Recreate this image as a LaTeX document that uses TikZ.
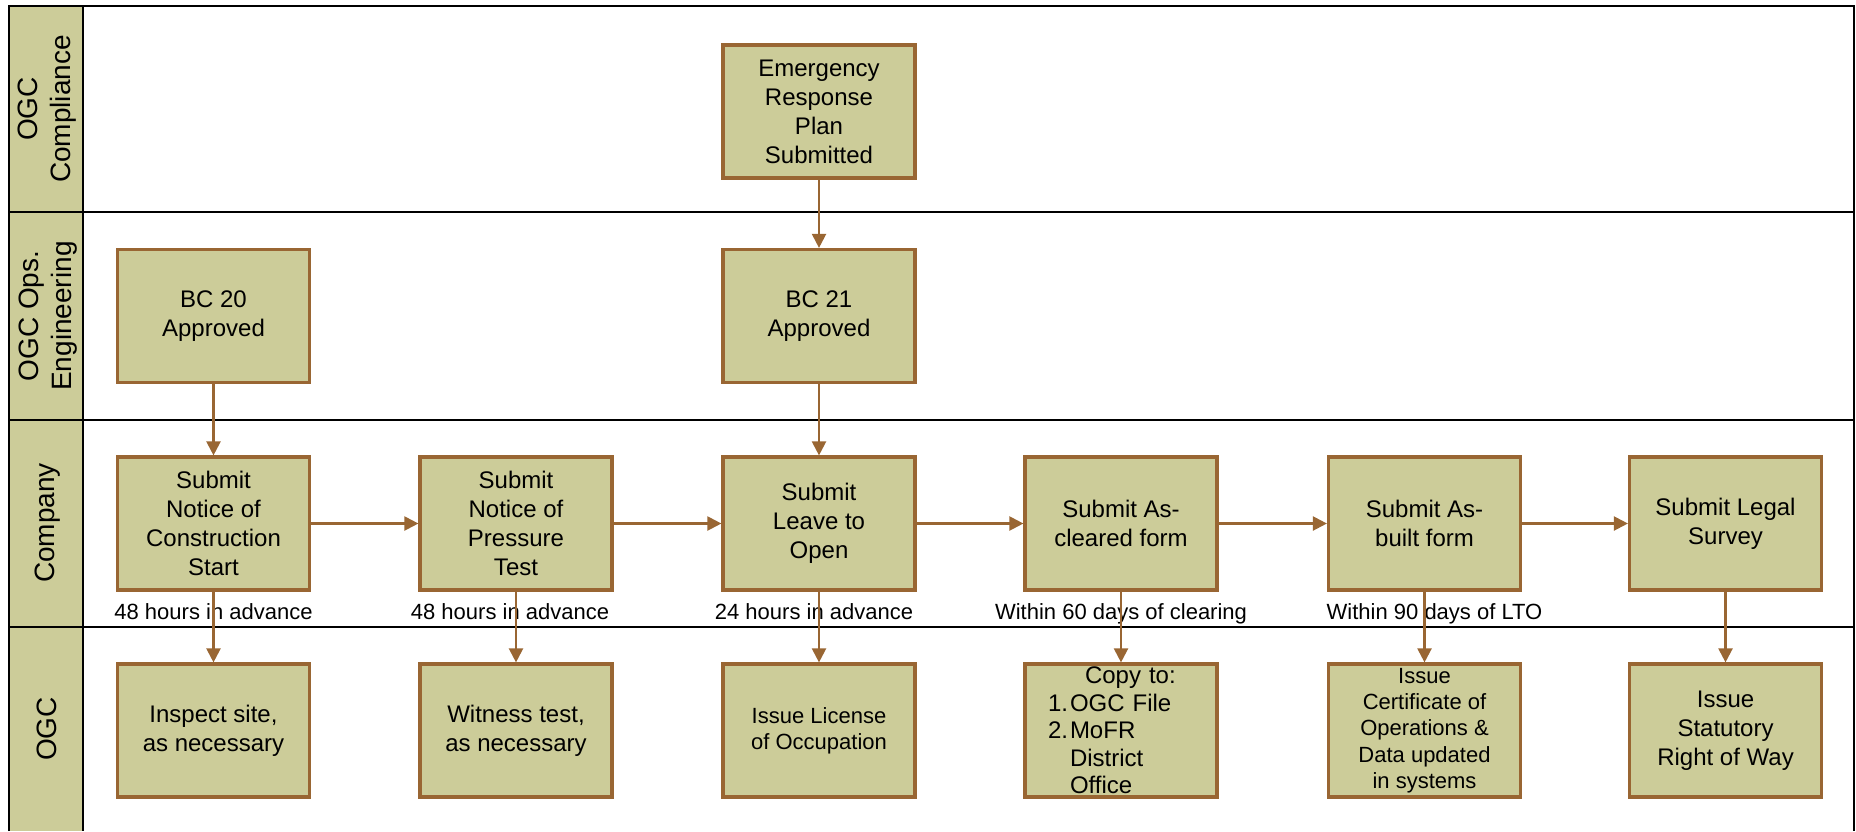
\documentclass[tikz,border=0pt]{standalone}
\usepackage{fontspec}
\setmainfont{Liberation Sans}
\usepackage{xcolor}
\usepackage{tikz}
\usetikzlibrary{arrows.meta,positioning}
\definecolor{khaki}{RGB}{204,204,153}
\definecolor{rust}{RGB}{153,102,51}

\begin{document}
\begin{tikzpicture}[x=0.5pt,y=-0.5pt,
      stepbox/.style={draw=rust,fill=khaki,line width=1.6pt,minimum width=96pt,minimum height=66.5pt,
        align=center,inner sep=1pt,font=\fontsize{12}{14.5}\selectfont},
      smalltext/.style={font=\fontsize{11}{13.2}\selectfont},
      note/.style={inner sep=0pt,font=\fontsize{11}{13}\selectfont},
      lane/.style={rotate=90,align=center,font=\fontsize{14}{16.5}\selectfont},
      flow/.style={draw=rust,line width=1.1pt,-{Triangle[length=7pt,width=7pt]}}]
      \useasboundingbox (0,0) rectangle (1856,831);
      \fill[khaki] (9,6) rectangle (83,831);
      \draw[line width=1pt] (9,831) -- (9,6) -- (1854,6) -- (1854,831);
      \draw[line width=1pt] (83,6) -- (83,831);
      \foreach \y in {212,420,627}
        \draw[line width=1pt] (9,\y) -- (1854,\y);
      \node[lane] (compliance) at (47,109) {OGC\\Compliance};
      \node[lane] (engineering) at (48,316) {OGC Ops.\\Engineering};
      \node[lane] (company) at (48,523) {Company};
      \node[lane] (ogc) at (47,729) {OGC};
      \node[stepbox] (erp) at (819,111.5) {Emergency\\Response\\Plan\\Submitted};
      \node[stepbox] (bc20) at (213.5,316) {BC 20\\Approved};
      \node[stepbox] (bc21) at (819,316) {BC 21\\Approved};
      \node[stepbox] (sub1) at (213.5,523.5) {Submit\\Notice of\\Construction\\Start};
      \node[stepbox] (sub2) at (516,523.5) {Submit\\Notice of\\Pressure\\Test};
      \node[stepbox] (sub3) at (819,523.5) {Submit\\Leave to\\Open};
      \node[stepbox] (sub4) at (1121,523.5) {Submit As-\\cleared form};
      \node[stepbox] (sub5) at (1424.5,523.5) {Submit As-\\built form};
      \node[stepbox] (sub6) at (1725.5,523.5) {Submit Legal\\Survey};
      \node[stepbox] (ogc1) at (213.5,730.5) {Inspect site,\\as necessary};
      \node[stepbox] (ogc2) at (516,730.5) {Witness test,\\as necessary};
      \node[stepbox,smalltext] (ogc3) at (819,730.5) {Issue License\\of Occupation};
      \node[stepbox,text width=73pt,align=left,font=\fontsize{12}{13.75}\selectfont] (ogc4) at (1121,730.5)
        {\hspace*{18.5pt}Copy to:\\\makebox[11pt][l]{1.}OGC File\\\makebox[11pt][l]{2.}MoFR\\\hspace*{11pt}District\\\hspace*{11pt}Office};
      \node[stepbox,smalltext] (ogc5) at (1424.5,730.5) {Issue\\Certificate of\\Operations \&\\Data updated\\in systems};
      \node[stepbox] (ogc6) at (1725.5,730.5) {Issue\\Statutory\\Right of Way};
      \node[note,below=6pt of sub1] (n1) {48 hours in advance};
      \node[note,below=6pt of sub2,xshift=-3pt] (n2) {48 hours in advance};
      \node[note,below=6pt of sub3,xshift=-2.5pt] (n3) {24 hours in advance};
      \node[note,below=6pt of sub4] (n4) {Within 60 days of clearing};
      \node[note,below=6pt of sub5,xshift=5pt] (n5) {Within 90 days of LTO};
      \draw[flow] (erp) -- (bc21);
      \draw[flow] (bc20) -- (sub1);
      \draw[flow] (bc21) -- (sub3);
      \foreach \i/\j in {1/2,2/3,3/4,4/5,5/6}
        \draw[flow] (sub\i) -- (sub\j);
      \foreach \i in {1,...,6}
        \draw[flow] (sub\i) -- (ogc\i);
    \end{tikzpicture}
\end{document}
